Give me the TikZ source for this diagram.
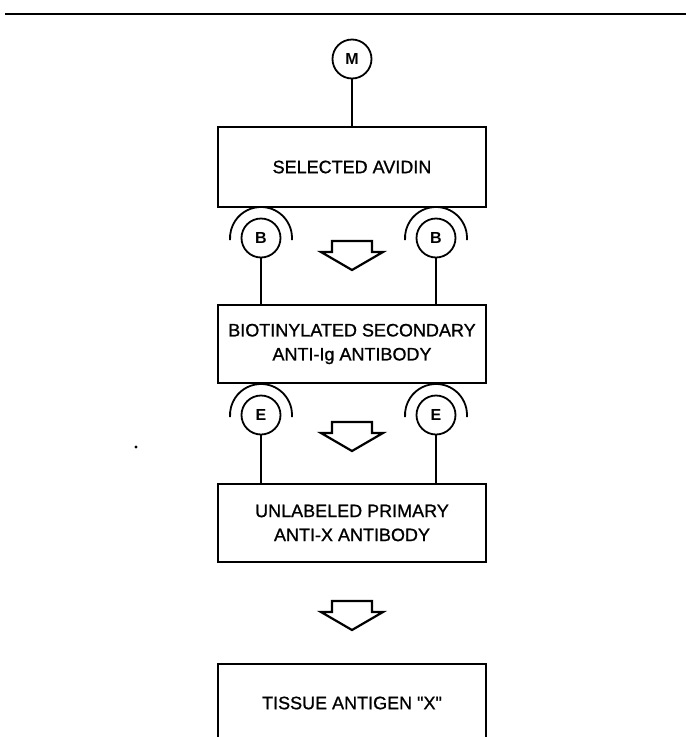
\documentclass[tikz,border=0pt]{standalone}
\usepackage{fontspec}
\setmainfont{Liberation Sans}
\newfontfamily\medio{Liberation Sans}[FakeBold=1]
\begin{document}
\begin{tikzpicture}[x=1pt,y=-1pt,
    caja/.style={draw, line width=2.2pt, minimum width=268pt, align=center,
        font=\medio\fontsize{18}{24}\selectfont},
    circulo/.style={draw, circle, line width=1.8pt, minimum size=39pt, inner sep=0pt,
        font=\bfseries\fontsize{16}{16}\selectfont},
    tallo/.style={line width=2.2pt},
    flecha/.style={line width=2.2pt, line join=miter}]
    \useasboundingbox (0,0) rectangle (686,737);
    % Linea superior
    \draw[line width=2.2pt] (5,14) -- (686,14);
    % Cajas
    \node[caja, minimum height=80pt] (avidina) at (352,167) {SELECTED AVIDIN};
    \node[caja, minimum height=78pt] (secundario) at (352,344) {BIOTINYLATED SECONDARY\\ANTI-Ig ANTIBODY};
    \node[caja, minimum height=78pt] (primario) at (352,523) {UNLABELED PRIMARY\\ANTI-X ANTIBODY};
    \node[font=\medio\fontsize{18}{24}\selectfont] (antigeno) at (352,703) {TISSUE ANTIGEN \symbol{34}X\symbol{34}};
    \draw[line width=2.2pt] (218,737) -- (218,664) -- (486,664) -- (486,737);
    % Marcadores
    \node[circulo] (m) at (352,59) {M};
    \node[circulo] (b1) at (261,238) {B};
    \node[circulo] (b2) at (436,238) {B};
    \node[circulo] (e1) at (261,415) {E};
    \node[circulo] (e2) at (436,415) {E};
    % Tallos
    \draw[tallo] (m) -- (avidina);
    \draw[tallo] (b1) -- (b1 |- secundario.north);
    \draw[tallo] (b2) -- (b2 |- secundario.north);
    \draw[tallo] (e1) -- (e1 |- primario.north);
    \draw[tallo] (e2) -- (e2 |- primario.north);
    % Arcos
    \foreach \c in {b1,b2,e1,e2}
        \draw[line width=1.8pt] ([shift={(4:31)}]\c.center) arc[start angle=4, end angle=-184, radius=31];
    % Flechas
    \foreach \y in {270,451,630}
        \draw[flecha] (352,\y) -- ++(31,-18) -- ++(-11,0) -- ++(0,-11) -- ++(-40,0) -- ++(0,11) -- ++(-11,0) -- cycle;
    % Punto
    \fill (136,447) circle (1.6);
\end{tikzpicture}
\end{document}
